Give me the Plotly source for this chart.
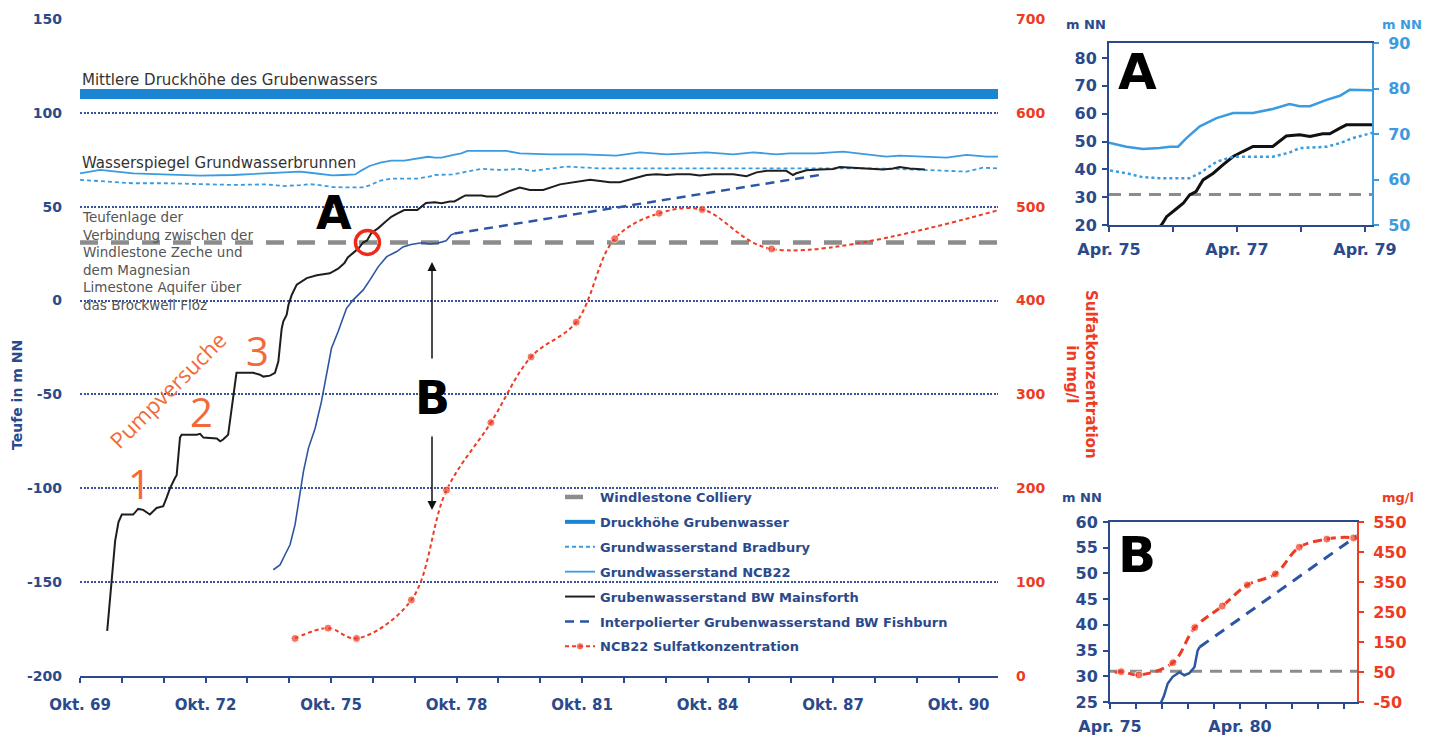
import plotly.graph_objects as go

W, H = 1430, 740

# ---------------------------------------------------------------- data
# time in decimal years; levels in m NN; sulfate in mg/l
mainsforth_year = [1970.40, 1970.49, 1970.59, 1970.67, 1970.75, 1971.02, 1971.14, 1971.26, 1971.42,
                   1971.58, 1971.74, 1971.82, 1971.90, 1972.02, 1972.06, 1972.14, 1972.18, 1972.54,
                   1972.62, 1972.70, 1973.02, 1973.10, 1973.17, 1973.29, 1973.37, 1973.45, 1973.49,
                   1973.89, 1974.05, 1974.13, 1974.29, 1974.41, 1974.49, 1974.57, 1974.61, 1974.69,
                   1974.73, 1974.81, 1974.93, 1975.17, 1975.41, 1975.72, 1975.92, 1976.07, 1976.15,
                   1976.28, 1976.41, 1976.51, 1976.61, 1976.72, 1976.88, 1977.03, 1977.19, 1977.34,
                   1977.50, 1977.81, 1978.02, 1978.23, 1978.39, 1978.59, 1978.70, 1978.86, 1978.96,
                   1979.17, 1979.35, 1979.47, 1979.71, 1980.02, 1980.26, 1980.50, 1980.82, 1981.22,
                   1981.54, 1981.94, 1982.18, 1982.41, 1982.65, 1982.97, 1983.29, 1983.53, 1983.77,
                   1984.01, 1984.33, 1984.56, 1984.88, 1985.36, 1985.68, 1985.92, 1986.16, 1986.63,
                   1986.79, 1986.87, 1987.11, 1987.43, 1987.75, 1987.91, 1988.23, 1988.55, 1988.94,
                   1989.18, 1989.34, 1989.58, 1989.94]
mainsforth_level = [-176, -151, -128, -118, -114, -114, -111, -111.5, -114,
                    -110.5, -109.5, -105, -100, -94.5, -93, -73, -71.5, -71.5,
                    -71, -73, -73.5, -75, -74, -71.5, -59, -45, -38.5,
                    -38.5, -39.5, -40.5, -40, -38.5, -32.5, -15, -11, -7.5,
                    -2.5, 3, 8.5, 12, 13.5, 14.5, 17, 20, 23,
                    25.4, 27.8, 30.8, 32, 36.2, 38.6, 41.6, 44.6, 46.4,
                    48.2, 48.2, 52.0, 52.4, 51.8, 52.8, 52.8, 54.8, 56.0,
                    56.0, 56.0, 55.4, 55.4, 58.4, 60.2, 58.9, 58.9, 61.9,
                    63.0, 64.3, 63.7, 63.0, 63.0, 64.8, 66.9, 67.3, 66.9,
                    67.3, 67.3, 66.6, 67.3, 67.3, 66.2, 68.3, 69.1, 69.1,
                    66.9, 67.8, 69.4, 69.8, 70.1, 71.2, 70.8, 70.1, 69.8,
                    70.4, 71.2, 70.4, 69.8]

ncb22_year = [1969.75, 1970.23, 1971.02, 1971.82, 1972.62, 1973.41, 1974.21, 1975.01, 1975.25,
              1975.52, 1975.78, 1976.04, 1976.20, 1976.33, 1976.46, 1976.67, 1976.93, 1977.19,
              1977.50, 1977.81, 1978.07, 1978.23, 1978.39, 1978.65, 1978.86, 1979.01, 1979.35,
              1979.94, 1980.26, 1980.98, 1981.78, 1982.57, 1983.13, 1983.77, 1984.25, 1984.72,
              1985.36, 1985.84, 1986.39, 1986.71, 1987.35, 1987.99, 1988.55, 1989.02, 1989.34,
              1989.98, 1990.46, 1990.94, 1991.41, 1991.73]
ncb22_level = [67.8, 69.6, 67.8, 67.3, 66.6, 66.9, 67.8, 68.7, 68.1,
               67.2, 66.7, 66.9, 67.2, 67.2, 69.1, 71.7, 73.5, 74.6,
               74.6, 75.5, 76.6, 76.1, 76.1, 77.5, 78.4, 79.7, 79.6,
               79.7, 78.4, 77.9, 77.9, 77.2, 79.0, 77.9, 78.4, 79.0,
               77.9, 79.0, 77.9, 78.4, 78.4, 79.3, 77.9, 76.7, 77.2,
               76.7, 76.1, 77.6, 76.7, 76.7]

bradbury_year = [1969.75, 1970.39, 1971.02, 1971.82, 1972.62, 1973.41, 1974.21, 1974.61, 1975.01,
                 1975.25, 1975.52, 1975.78, 1976.04, 1976.51, 1976.67, 1976.93, 1977.19, 1977.50,
                 1977.81, 1978.07, 1978.23, 1978.65, 1978.86, 1979.06, 1979.35, 1979.79, 1980.26,
                 1980.58, 1981.38, 1982.18, 1982.97, 1983.77, 1984.56, 1985.36, 1986.16, 1986.95,
                 1987.75, 1988.55, 1989.34, 1990.14, 1990.94, 1991.33, 1991.73]
bradbury_level = [64.3, 63.4, 62.5, 62.5, 61.9, 61.6, 61.9, 61.0, 61.5,
                  62.0, 61.4, 60.5, 60.3, 60.3, 61.4, 63.9, 65.0, 65.0,
                  65.0, 65.9, 66.9, 67.2, 68.0, 69.1, 70.2, 69.6, 70.1,
                  69.1, 71.4, 70.4, 70.4, 70.8, 70.8, 70.4, 70.4, 70.8,
                  70.8, 70.4, 70.1, 69.6, 68.7, 70.8, 70.4]

fishburn_year = [1974.37, 1974.53, 1974.65, 1974.77, 1974.89, 1975.01, 1975.09, 1975.21, 1975.37,
                 1975.52, 1975.64, 1975.76, 1975.92, 1976.12, 1976.28, 1976.52, 1976.68, 1976.88,
                 1977.08, 1977.32, 1977.47, 1977.66, 1977.92, 1978.11, 1978.30, 1978.50, 1978.62,
                 1978.70]
fishburn_level = [-143.4, -140.8, -135.4, -130.1, -119.4, -103.5, -91.1, -78.6, -68.0,
                  -53.8, -39.6, -25.4, -16.5, -4.1, 0.4, 5.7, 11.0, 18.1,
                  23.4, 26.1, 28.6, 29.9, 30.8, 30.2, 30.6, 31.8, 35.0,
                  35.7]

fishburn_interp_year = [1978.70, 1987.43]
fishburn_interp_level = [35.7, 66.9]

sulfate_year = [1974.89, 1975.68, 1976.36, 1977.67, 1978.51, 1979.57, 1980.53, 1981.61,
                1982.53, 1983.59, 1984.62, 1986.28, 1991.75]
sulfate_mgl = [40, 51, 40, 81, 198, 270, 340, 377, 466, 493, 497, 455, 497]
sulfate_marker = [8] * 12 + [0]

colliery_level = 31          # Windlestone Colliery connection depth
druckhoehe_level = 110       # mean mine-water pressure head

main_years = [1969.75, 1991.69]
okt_ticks = [1969.75 + i for i in range(22)]
okt_labels = ["Okt. %02d" % ((69 + i) % 100) if i % 3 == 0 else "" for i in range(22)]
depth_ticks = [-200, -150, -100, -50, 0, 50, 100, 150]
depth_labels = ["-200", "-150", "-100", "-50", "0", "50", "100", "150"]
sulfate_ticks = [0, 100, 200, 300, 400, 500, 600, 700]

insetA_years = [1975.25, 1979.36]
insetA_ticks = [1975.25, 1976.25, 1977.25, 1978.25, 1979.25]
insetA_labels = ["Apr. 75", "", "Apr. 77", "", "Apr. 79"]
insetA_left_ticks = [20, 30, 40, 50, 60, 70, 80]
insetA_right_ticks = [50, 60, 70, 80, 90]

insetB_years = [1975.25, 1984.75]
insetB_ticks = [1975.25 + i for i in range(10)]
insetB_labels = ["Apr. 75", "", "", "", "", "Apr. 80", "", "", "", ""]
insetB_left_ticks = [25, 30, 35, 40, 45, 50, 55, 60]
insetB_right_ticks = [-50, 50, 150, 250, 350, 450, 550]
insetB_right_labels = ["-50", "50", "150", "250", "350", "450", "550"]

# ---------------------------------------------------------------- style
FONT = "DejaVu Sans"
SOFT = "Open Sans"
NAVY = "#2b4a8b"
LIGHT = "#3a9be0"
DRUCK = "#1a86d3"
FISH = "#2c56a3"
RED = "#ee3b22"
ORANGE = "#f26a3a"
GRAY = "#8c8c8c"


def px(x):
    return x / W


def py(y):
    return 1 - y / H


fig = go.Figure()

# ---------------------------------------------------------------- main chart
fig.add_trace(go.Scatter(x=main_years, y=[colliery_level] * 2, mode="lines",
                         name="Windlestone Colliery", legendgroup="g1",
                         line=dict(color=GRAY, width=4.5, dash="18px,13px")))
fig.add_trace(go.Scatter(x=main_years, y=[druckhoehe_level] * 2, mode="lines",
                         showlegend=False, legendgroup="g2",
                         line=dict(color=DRUCK, width=10)))
# legend entry for the pressure head band, drawn with a slimmer key
fig.add_trace(go.Scatter(x=[None], y=[None], mode="lines",
                         name="Druckhöhe Grubenwasser", legendgroup="g2",
                         line=dict(color=DRUCK, width=4)))
fig.add_trace(go.Scatter(x=bradbury_year, y=bradbury_level, mode="lines",
                         name="Grundwasserstand Bradbury", legendgroup="g3",
                         line=dict(color=LIGHT, width=1.8, dash="4px,3px")))
fig.add_trace(go.Scatter(x=ncb22_year, y=ncb22_level, mode="lines",
                         name="Grundwasserstand NCB22", legendgroup="g4",
                         line=dict(color=LIGHT, width=1.8)))
fig.add_trace(go.Scatter(x=mainsforth_year, y=mainsforth_level, mode="lines",
                         name="Grubenwasserstand BW Mainsforth", legendgroup="g5",
                         line=dict(color="#1e1e1e", width=2)))
fig.add_trace(go.Scatter(x=fishburn_year, y=fishburn_level, mode="lines",
                         showlegend=False, legendgroup="g6",
                         line=dict(color=FISH, width=1.6)))
fig.add_trace(go.Scatter(x=fishburn_interp_year, y=fishburn_interp_level, mode="lines",
                         name="Interpolierter Grubenwasserstand BW Fishburn", legendgroup="g6",
                         line=dict(color=FISH, width=2.5, dash="9px,6px")))
fig.add_trace(go.Scatter(x=sulfate_year, y=sulfate_mgl, yaxis="y2", mode="lines+markers",
                         name="NCB22 Sulfatkonzentration", legendgroup="g7",
                         line=dict(color=RED, width=2, dash="4px,3px", shape="spline", smoothing=1),
                         marker=dict(color=RED, size=sulfate_marker)))

# ---------------------------------------------------------------- inset A
fig.add_trace(go.Scatter(x=insetA_years, y=[colliery_level] * 2, xaxis="x3", yaxis="y3",
                         mode="lines", showlegend=False,
                         line=dict(color=GRAY, width=3, dash="12px,8px")))
fig.add_trace(go.Scatter(x=ncb22_year, y=ncb22_level, xaxis="x3", yaxis="y4",
                         mode="lines", showlegend=False, line=dict(color=LIGHT, width=2.5)))
fig.add_trace(go.Scatter(x=bradbury_year, y=bradbury_level, xaxis="x3", yaxis="y4",
                         mode="lines", showlegend=False,
                         line=dict(color=LIGHT, width=2.5, dash="dot")))
fig.add_trace(go.Scatter(x=mainsforth_year, y=mainsforth_level, xaxis="x3", yaxis="y3",
                         mode="lines", showlegend=False, line=dict(color="#111111", width=3)))

# ---------------------------------------------------------------- inset B
fig.add_trace(go.Scatter(x=insetB_years, y=[colliery_level] * 2, xaxis="x4", yaxis="y5",
                         mode="lines", showlegend=False,
                         line=dict(color=GRAY, width=3, dash="12px,8px")))
fig.add_trace(go.Scatter(x=fishburn_year, y=fishburn_level, xaxis="x4", yaxis="y5",
                         mode="lines", showlegend=False, line=dict(color=FISH, width=2.5)))
fig.add_trace(go.Scatter(x=fishburn_interp_year, y=fishburn_interp_level, xaxis="x4", yaxis="y5",
                         mode="lines", showlegend=False,
                         line=dict(color=FISH, width=3, dash="11px,8px")))
fig.add_trace(go.Scatter(x=sulfate_year, y=sulfate_mgl, xaxis="x4", yaxis="y6",
                         mode="lines+markers", showlegend=False,
                         line=dict(color=RED, width=3, dash="9px,5px", shape="spline", smoothing=1),
                         marker=dict(color=RED, size=sulfate_marker)))

tick_font_main = dict(family=FONT, size=14, color=NAVY, weight=700)
tick_font_inset = dict(family=FONT, size=16, color=NAVY, weight=700)
common = dict(automargin=False, zeroline=False)

fig.update_layout(
    width=W, height=H, autosize=False,
    margin=dict(l=0, r=0, t=0, b=0, pad=0, autoexpand=False),
    paper_bgcolor="white", plot_bgcolor="rgba(0,0,0,0)",
    font=dict(family=FONT, color=NAVY),
    showlegend=True,
    legend=dict(x=px(560), y=py(482), xanchor="left", yanchor="top",
                bgcolor="rgba(0,0,0,0)", traceorder="grouped", tracegroupgap=5,
                font=dict(family=FONT, size=13, color=NAVY, weight=700)),
    xaxis=dict(domain=[px(80), px(998)], range=main_years, anchor="y",
               tickmode="array", tickvals=okt_ticks, ticktext=okt_labels,
               showline=True, linecolor=NAVY, linewidth=2,
               ticks="outside", ticklen=5, tickwidth=2, tickcolor=NAVY,
               showgrid=False, ticklabelstandoff=9,
               tickfont=dict(family=FONT, size=15, color=NAVY, weight=700), **common),
    yaxis=dict(domain=[py(676), py(19)], range=[-200, 150], anchor="x",
               tickmode="array", tickvals=depth_ticks, ticktext=depth_labels,
               showline=False, ticks="",
               showgrid=True, gridcolor="#3553a0", gridwidth=1.5, griddash="2px,1.5px",
               ticklabelstandoff=17, tickfont=tick_font_main, **common),
    yaxis2=dict(overlaying="y", side="right", anchor="x", range=[0, 700],
                tickmode="array", tickvals=sulfate_ticks,
                showline=False, showgrid=False, ticks="",
                ticklabelstandoff=17,
                tickfont=dict(family=FONT, size=14, color=RED, weight=700), **common),
    # inset A
    xaxis3=dict(domain=[px(1109), px(1372)], range=insetA_years, anchor="y3",
                tickmode="array", tickvals=insetA_ticks, ticktext=insetA_labels,
                showline=True, mirror=True, linecolor=NAVY, linewidth=2,
                ticks="outside", ticklen=5, tickwidth=2, tickcolor=NAVY,
                showgrid=False, ticklabelstandoff=4,
                tickfont=dict(family=FONT, size=16, color=NAVY, weight=700), **common),
    yaxis3=dict(domain=[py(225), py(43)], range=[20, 85.4], anchor="x3",
                tickmode="array", tickvals=insetA_left_ticks,
                showline=True, linecolor=NAVY, linewidth=2,
                ticks="outside", ticklen=5, tickwidth=2, tickcolor=NAVY,
                showgrid=False, ticklabelstandoff=2,
                tickfont=tick_font_inset, **common),
    yaxis4=dict(overlaying="y3", side="right", anchor="x3", range=[50, 90],
                tickmode="array", tickvals=insetA_right_ticks,
                showline=True, linecolor=LIGHT, linewidth=2,
                ticks="outside", ticklen=5, tickwidth=2, tickcolor=LIGHT,
                showgrid=False, ticklabelstandoff=6,
                tickfont=dict(family=FONT, size=16, color=LIGHT, weight=700), **common),
    # inset B
    xaxis4=dict(domain=[px(1110), px(1357)], range=insetB_years, anchor="y5",
                tickmode="array", tickvals=insetB_ticks, ticktext=insetB_labels,
                showline=True, mirror=True, linecolor=NAVY, linewidth=2,
                ticks="outside", ticklen=5, tickwidth=2, tickcolor=NAVY,
                showgrid=False, ticklabelstandoff=4,
                tickfont=dict(family=FONT, size=16, color=NAVY, weight=700), **common),
    yaxis5=dict(domain=[py(702), py(522)], range=[25, 60], anchor="x4",
                tickmode="array", tickvals=insetB_left_ticks,
                showline=True, linecolor=NAVY, linewidth=2,
                ticks="outside", ticklen=5, tickwidth=2, tickcolor=NAVY,
                showgrid=False, ticklabelstandoff=2,
                tickfont=tick_font_inset, **common),
    yaxis6=dict(overlaying="y5", side="right", anchor="x4", range=[-50, 550],
                tickmode="array", tickvals=insetB_right_ticks, ticktext=insetB_right_labels,
                showline=True, linecolor=RED, linewidth=2,
                ticks="outside", ticklen=5, tickwidth=2, tickcolor=RED,
                showgrid=False, ticklabelstandoff=6,
                tickfont=dict(family=FONT, size=16, color=RED, weight=700), **common),
)

# circle marking where the mine water reaches the connection level
fig.add_shape(type="circle", xref="x", yref="y", xsizemode="pixel", ysizemode="pixel",
              xanchor=1976.62, yanchor=colliery_level, x0=-12, x1=12, y0=-12, y1=12,
              line=dict(color="#ee2a1b", width=3.5))

ann = []


def text(x, y, s, size, color, weight=400, xanchor="center", yanchor="middle",
         angle=0, align="center", family=FONT):
    ann.append(dict(x=px(x), y=py(y), xref="paper", yref="paper", text=s, showarrow=False,
                    xanchor=xanchor, yanchor=yanchor, textangle=angle, align=align,
                    font=dict(family=family, size=size, color=color, weight=weight)))


text(80, 80, "Mittlere Druckhöhe des Grubenwassers", 15, "#333333", xanchor="left")
text(80, 163, "Wasserspiegel Grundwasserbrunnen", 15, "#333333", xanchor="left")
text(80, 207, "Teufenlage der<br>Verbindung zwischen der<br>Windlestone Zeche und<br>"
              "dem Magnesian<br>Limestone Aquifer über<br>das Brockwell Flöz",
     13.5, "#555555", xanchor="left", yanchor="top", align="left")
text(334, 213, "A", 46, "#000000", weight=700)
text(432, 398, "B", 46, "#000000", weight=700)
text(167, 390, "Pumpversuche", 22, ORANGE, angle=-45, family=SOFT)
text(139, 483, "1", 40, ORANGE, family=SOFT)
text(201, 411, "2", 40, ORANGE, family=SOFT)
text(257, 350, "3", 40, ORANGE, family=SOFT)
text(17, 395, "Teufe in m NN", 14, NAVY, weight=700, angle=-90)
text(1081, 374, "Sulfatkonzentration<br>in mg/l", 15, RED, weight=700, angle=90)

text(1086, 25, "m NN", 13, NAVY, weight=700)
text(1402, 24, "m NN", 13, LIGHT, weight=700)
text(1137, 72, "A", 50, "#000000", weight=700)
text(1082, 497, "m NN", 13, NAVY, weight=700)
text(1398, 497, "mg/l", 13, RED, weight=700)
text(1137, 555, "B", 50, "#000000", weight=700)

# arrows around the "B" label
ann.append(dict(x=px(432), y=py(262), xref="paper", yref="paper", ax=0, ay=98,
                axref="pixel", ayref="pixel", text="", showarrow=True,
                arrowhead=2, arrowsize=1.2, arrowwidth=1.5, arrowcolor="#111111"))
ann.append(dict(x=px(432), y=py(510), xref="paper", yref="paper", ax=0, ay=-75,
                axref="pixel", ayref="pixel", text="", showarrow=True,
                arrowhead=2, arrowsize=1.2, arrowwidth=1.5, arrowcolor="#111111"))

fig.update_layout(annotations=ann)

fig.write_html("out.html")
